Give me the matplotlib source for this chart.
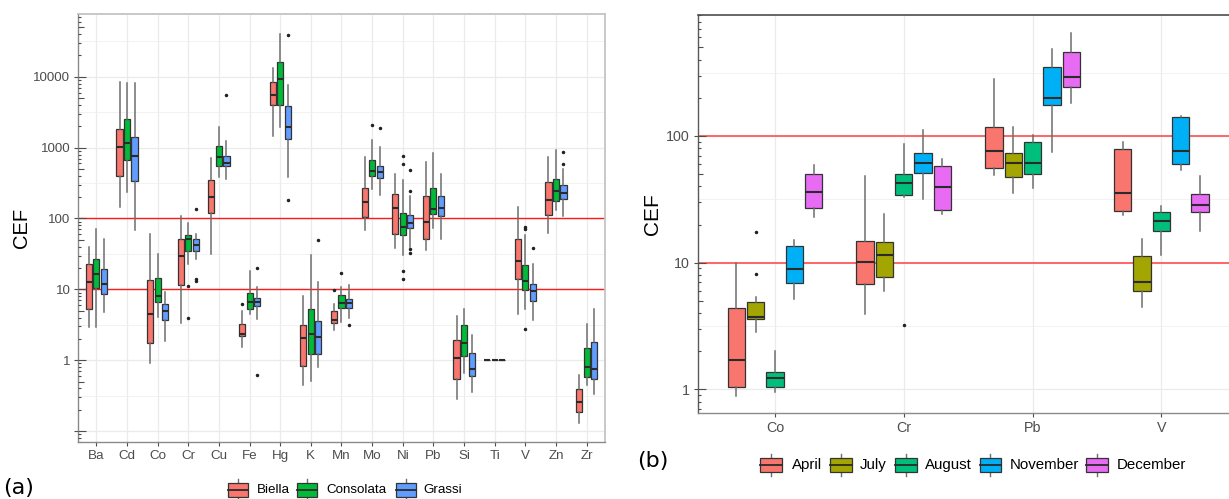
import numpy as np
import matplotlib
matplotlib.use("Agg")
import matplotlib.pyplot as plt
from matplotlib.patches import Rectangle
from matplotlib.ticker import FixedLocator, FixedFormatter, NullFormatter

plt.rcParams['font.family'] = ['Liberation Sans', 'DejaVu Sans']

# ---------------- panel (a): CEF by element and sampling site ----------------
elements = ["Ba", "Cd", "Co", "Cr", "Cu", "Fe", "Hg", "K", "Mn", "Mo",
            "Ni", "Pb", "Si", "Ti", "V", "Zn", "Zr"]
sites = ["Biella", "Consolata", "Grassi"]
site_colors = ["#F8766D", "#00BA38", "#619CFF"]

# summaries per element: lower whisker, Q1, median, Q3, upper whisker
biella_lo  = [2.9, 144, 0.92, 3.36, 32, 1.54, 1476, 0.44, 2.65, 68, 38.7, 36.2, 0.28, 1, 4.54, 62, 0.131]
biella_q1  = [5.35, 403, 1.75, 11.4, 119, 2.2, 4032, 0.84, 3.4, 104, 61, 51.8, 0.535, 1, 14.1, 113, 0.183]
biella_med = [12.7, 1010, 4.44, 29.8, 204, 2.32, 5575, 2.06, 3.66, 170, 140, 88.7, 1.09, 1, 24.8, 183, 0.259]
biella_q3  = [23, 1833, 13.4, 51, 354, 3.21, 8410, 3.11, 4.9, 267, 222, 211, 1.95, 1, 51.8, 325, 0.394]
biella_hi  = [40, 8500, 60, 110, 707, 4.95, 13500, 7.97, 6.3, 731, 426, 635, 4.17, 1, 144, 747, 0.615]
biella_out = {"Fe": [6.15], "Mn": [9.7]}

consolata_lo  = [2.9, 235, 4.07, 22.5, 382, 4.45, 1977, 0.506, 3.5, 262, 30.8, 74, 0.65, 1, 5.35, 132, 0.445]
consolata_q1  = [10.6, 671, 6.6, 34.6, 545, 5.35, 4032, 1.24, 5.4, 394, 57.6, 114, 1.14, 1, 9.68, 175, 0.582]
consolata_med = [16.3, 1150, 8.15, 50.6, 747, 6.63, 9270, 2.32, 6.4, 464, 76.4, 137, 1.75, 1, 13.1, 243, 0.805]
consolata_q3  = [27, 2500, 14.6, 57.6, 1042, 8.87, 16400, 5.28, 8.4, 671, 121.5, 271, 3.18, 1, 21.8, 362, 1.51]
consolata_hi  = [70, 8050, 32, 87, 1977, 18.1, 40000, 31, 10.8, 1283, 354, 831, 5.2, 1, 57.6, 927, 3.28]
consolata_out = {"Cr": [11, 4], "Mn": [17.2], "Mo": [2085],
                 "Ni": [753, 595, 17.9, 14.1], "V": [72, 77, 2.8]}

grassi_lo  = [4.8, 68, 1.87, 27, 362, 3.82, 382, 0.8, 4, 216, 40, 51.8, 0.35, 1, 3.66, 110, 0.33]
grassi_q1  = [8.7, 343, 3.66, 34.6, 545, 5.76, 1325, 1.24, 5.4, 374, 73, 108, 0.595, 1, 6.78, 189, 0.535]
grassi_med = [12, 764, 4.95, 41.7, 615, 6.7, 1977, 2.13, 6.5, 459, 87, 140, 0.76, 1, 9.46, 230, 0.747]
grassi_q3  = [19.3, 1430, 6.3, 51, 771, 7.64, 3908, 3.54, 7.4, 557, 113, 211, 1.27, 1, 12, 298, 1.81]
grassi_hi  = [52, 8050, 9.2, 61, 1227, 10.8, 7710, 12.7, 11.4, 1033, 206, 426, 2.3, 1, 22.5, 501, 5.2]
grassi_out = {"Cr": [134, 13, 14], "Cu": [5520], "Fe": [20.2, 0.62], "Hg": [39000, 183],
              "K": [49], "Mn": [3.1], "Mo": [1893], "Ni": [490, 248, 37.5, 33],
              "V": [38.7], "Zn": [860, 589]}

# ---------------- panel (b): CEF by element and month ----------------
metals_b = ["Co", "Cr", "Pb", "V"]
months = ["April", "July", "August", "November", "December"]
month_colors = ["#F8766D", "#A3A500", "#00BF7D", "#00B0F6", "#E76BF3"]

april_stats    = [(0.89, 1.04, 1.72, 4.36, 9.87), (3.93, 6.82, 10.2, 14.9, 48.2),
                  (49.1, 56.1, 76, 118, 283), (23.6, 25.4, 35.2, 78.4, 89)]
july_stats     = [(2.82, 3.57, 3.74, 4.89, 5.38), (6.0, 7.65, 11.4, 14.6, 24.2),
                  (35.6, 47.6, 60.8, 73.7, 118), (4.44, 6.0, 7.0, 11.3, 15.4)]
august_stats   = [(0.957, 1.04, 1.24, 1.36, 2.0), (32.7, 34, 42.3, 50, 85.9),
                  (38.6, 49.8, 61.4, 89, 102), (11.5, 17.9, 21.4, 24.9, 28)]
november_stats = [(5.16, 6.94, 8.9, 13.6, 15.1), (31.8, 50.7, 61.4, 73.7, 111),
                  (75, 175, 200, 352, 482), (53.8, 60, 76, 140, 144)]
december_stats = [(22.8, 26.8, 36.1, 50, 58.9), (24.1, 26, 39.7, 57.9, 65.3),
                  (181, 244, 290, 457, 653), (17.8, 25.2, 28.6, 34.6, 48.3)]
july_out   = {"Co": [8.13, 17.3]}
august_out = {"Cr": [3.22]}

thresholds = [10, 100]

# ---------------- figure ----------------
W, H = 1229, 499
fig = plt.figure(figsize=(W / 100, H / 100), dpi=100)


def px_axes(x0, y0, x1, y1):
    return fig.add_axes([x0 / W, 1 - y1 / H, (x1 - x0) / W, (y1 - y0) / H])


def make_stats(lo, q1, med, q3, hi, names, outliers):
    out = []
    for i, name in enumerate(names):
        out.append(dict(whislo=lo[i], q1=q1[i], med=med[i], q3=q3[i],
                        whishi=hi[i], fliers=outliers.get(name, [])))
    return out


def draw_boxes(ax, stats, positions, width, color):
    ax.bxp(stats, positions=positions, widths=width, patch_artist=True,
           showcaps=False, manage_ticks=False,
           boxprops=dict(facecolor=color, edgecolor="#333333", linewidth=0.9),
           medianprops=dict(color="#2b2b2b", linewidth=1.5),
           whiskerprops=dict(color="#6e6e6e", linewidth=1.1),
           flierprops=dict(marker="o", markersize=1.5, markerfacecolor="#222222",
                           markeredgecolor="#222222", linestyle="none"),
           zorder=3)


def log_ticks(ax, exps, width_px):
    tr = ax.get_yaxis_transform()
    for k in exps:
        for m in range(1, 10):
            v = m * 10.0 ** k
            L = 8.3 if m == 1 else (5.5 if m == 5 else 3.3)
            ax.plot([0, L / width_px], [v, v], transform=tr, color="#4d4d4d",
                    lw=0.8, zorder=4, clip_on=True, solid_capstyle="butt")


def style_axes(ax, decades, labelled, minor, fs):
    ax.set_yscale("log")
    ax.yaxis.set_major_locator(FixedLocator(decades))
    ax.yaxis.set_major_formatter(FixedFormatter(
        [("%g" % d if d in labelled else "") for d in decades]))
    ax.yaxis.set_minor_locator(FixedLocator(minor))
    ax.yaxis.set_minor_formatter(NullFormatter())
    ax.grid(True, which="major", color="#EBEBEB", lw=0.9, zorder=0)
    ax.grid(True, which="minor", axis="y", color="#F0F0F0", lw=0.6, zorder=0)
    ax.set_axisbelow(True)
    ax.tick_params(axis="both", which="major", direction="out", length=3,
                   width=0.8, color="#4d4d4d", labelcolor="#4d4d4d",
                   labelsize=fs, pad=2.5)
    ax.tick_params(axis="y", which="minor", length=0)


# ---- panel (a) ----
axA = px_axes(78, 14, 605, 442)
xa = np.arange(1, len(elements) + 1)
site_data = [
    make_stats(biella_lo, biella_q1, biella_med, biella_q3, biella_hi, elements, biella_out),
    make_stats(consolata_lo, consolata_q1, consolata_med, consolata_q3, consolata_hi, elements, consolata_out),
    make_stats(grassi_lo, grassi_q1, grassi_med, grassi_q3, grassi_hi, elements, grassi_out),
]
offsets_a = [-0.245, 0.0, 0.245]
for stats, off, col in zip(site_data, offsets_a, site_colors):
    draw_boxes(axA, stats, xa + off, 0.2, col)
for t in thresholds:
    axA.axhline(t, color="#FF1A1A", lw=1.0, zorder=2)
axA.set_xlim(0.4, len(elements) + 0.6)
axA.set_ylim(0.07, 77000)
style_axes(axA, [0.1, 1, 10, 100, 1000, 10000], [1, 10, 100, 1000, 10000],
           [10 ** (k + 0.5) for k in range(-2, 5)], 9.6)
axA.set_xticks(xa)
axA.set_xticklabels(elements)
axA.set_ylabel("CEF", fontsize=14.5, color="black", labelpad=1.5)
for s in ["top", "right"]:
    axA.spines[s].set_color("#C4C4C4")
    axA.spines[s].set_linewidth(1.3)
for s in ["left", "bottom"]:
    axA.spines[s].set_color("#8a8a8a")
    axA.spines[s].set_linewidth(1.0)
log_ticks(axA, range(-2, 5), 527)

# ---- panel (b) ----
axB = px_axes(697.7, 14.7, 1238.7, 413.3)
xb = np.arange(1, len(metals_b) + 1)
month_stats = [april_stats, july_stats, august_stats, november_stats, december_stats]
month_out = [{}, july_out, august_out, {}, {}]
offsets_b = [-0.30, -0.15, 0.0, 0.15, 0.30]
for ms, mo, off, col in zip(month_stats, month_out, offsets_b, month_colors):
    stats = [dict(whislo=s[0], q1=s[1], med=s[2], q3=s[3], whishi=s[4],
                  fliers=mo.get(name, [])) for name, s in zip(metals_b, ms)]
    draw_boxes(axB, stats, xb + off, 0.135, col)
for t in thresholds:
    axB.axhline(t, color="#FF5A5A", lw=1.3, zorder=2)
axB.set_xlim(0.4, len(metals_b) + 0.6)
axB.set_ylim(0.647, 906)
style_axes(axB, [1, 10, 100], [1, 10, 100],
           [10 ** (k + 0.5) for k in range(-1, 3)], 10.3)
axB.set_xticks(xb)
axB.set_xticklabels(metals_b)
axB.set_ylabel("CEF", fontsize=15, color="black", labelpad=3.2)
axB.spines["top"].set_color("#4d4d4d")
axB.spines["top"].set_linewidth(1.2)
axB.spines["right"].set_visible(False)
axB.spines["left"].set_color("#5a5a5a")
axB.spines["bottom"].set_color("#8a8a8a")
for s in ["left", "bottom"]:
    axB.spines[s].set_linewidth(1.0)
log_ticks(axB, range(-1, 3), 541)

# ---- legends and panel tags (pixel coordinates) ----
ov = fig.add_axes([0, 0, 1, 1], zorder=10)
ov.set_xlim(0, W)
ov.set_ylim(H, 0)
ov.axis("off")


def legend_key(x, yc, w, h, color):
    ov.plot([x + w / 2, x + w / 2], [yc - h / 2 - 4, yc + h / 2 + 4],
            color="#6e6e6e", lw=1.0)
    ov.add_patch(Rectangle((x, yc - h / 2), w, h, facecolor=color,
                           edgecolor="#333333", lw=0.9, zorder=3))
    ov.plot([x, x + w], [yc, yc], color="#2b2b2b", lw=1.3, zorder=4)


for name, col, kx, tx in zip(sites, site_colors, [228, 297, 395.5], [257, 326, 423]):
    legend_key(kx, 490, 20, 13.5, col)
    ov.text(tx, 490, name, fontsize=9.6, va="center", ha="left", color="black")

for name, col, kx, tx in zip(months, month_colors,
                             [760, 830, 895, 979.5, 1086],
                             [791.5, 860, 925, 1010, 1116.5]):
    legend_key(kx, 465, 21.5, 13.5, col)
    ov.text(tx, 465, name, fontsize=10.8, va="center", ha="left", color="black")

ov.text(3, 488, "(a)", fontsize=16, va="center", ha="left", color="black",
        family=["DejaVu Sans"])
ov.text(637, 461, "(b)", fontsize=16, va="center", ha="left", color="black",
        family=["DejaVu Sans"])

fig.savefig("out.png", dpi=100)
